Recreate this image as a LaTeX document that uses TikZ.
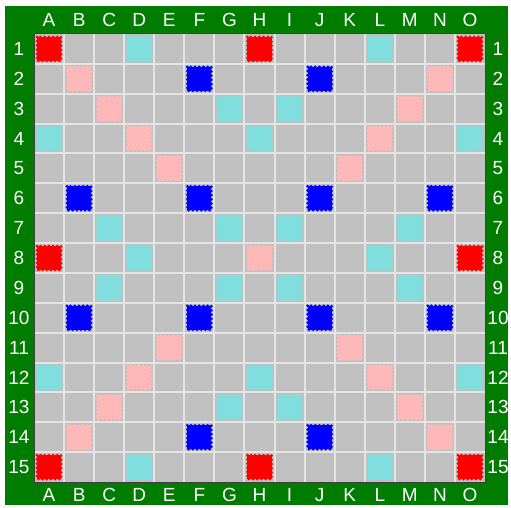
\documentclass[tikz,border=0pt]{standalone}
\usepackage{fontspec}
\setmainfont{Liberation Sans}
\usetikzlibrary{positioning}

\definecolor{boardgreen}{RGB}{0,124,0}
\definecolor{cellgray}{RGB}{192,192,192}
\definecolor{gridgray}{RGB}{228,228,228}
\definecolor{twred}{RGB}{255,0,0}
\definecolor{dwpink}{RGB}{255,184,184}
\definecolor{tlblue}{RGB}{0,0,255}
\definecolor{dlcyan}{RGB}{128,222,222}

\tikzset{
  coordtext/.style={text=white, inner sep=0pt, font=\fontsize{19}{19}\selectfont},
  gridline/.style={gridgray, line width=2pt},
  boardedge/.style={draw=black!75, line width=1pt},
  scallop/.style={line width=3pt, line cap=round, dash pattern=on 0pt off 4.2pt}
}

% cell size of the board in px
\newcommand{\cw}{30.07}
\newcommand{\ch}{29.87}

% premium square: column, row, colour
\newcommand{\premiumsq}[3]{%
  \pgfmathsetmacro{\px}{34+(#1-1)*\cw}%
  \pgfmathsetmacro{\py}{34+(#2-1)*\ch}%
  \fill[#3] (\px+3,\py+3) rectangle (\px+\cw-3,\py+\ch-3);
  \draw[#3, scallop] (\px+3,\py+3) rectangle (\px+\cw-3,\py+\ch-3);
}

\begin{document}
\begin{tikzpicture}[x=1pt, y=-1pt]
    \useasboundingbox (0,0) rectangle (511,508);
    \fill[white] (0,0) rectangle (511,508);
    \fill[boardgreen] (5,6) rectangle (508,505);

    % Board
    \fill[cellgray] (34,34) rectangle (485,482);
    \foreach \i in {1,...,14} {
        \draw[gridline] ({34+\i*\cw},34) -- ({34+\i*\cw},482);
        \draw[gridline] (34,{34+\i*\ch}) -- (485,{34+\i*\ch});
    }

    % Premium squares
    \foreach \c/\r in {1/1,8/1,15/1,1/8,15/8,1/15,8/15,15/15}
        \premiumsq{\c}{\r}{twred};
    \foreach \c/\r in {2/2,3/3,4/4,5/5,14/2,13/3,12/4,11/5,8/8,
                       2/14,3/13,4/12,5/11,14/14,13/13,12/12,11/11}
        \premiumsq{\c}{\r}{dwpink};
    \foreach \c/\r in {6/2,10/2,2/6,6/6,10/6,14/6,2/10,6/10,10/10,14/10,6/14,10/14}
        \premiumsq{\c}{\r}{tlblue};
    \foreach \c/\r in {4/1,12/1,7/3,9/3,1/4,8/4,15/4,3/7,7/7,9/7,13/7,4/8,12/8,
                       3/9,7/9,9/9,13/9,1/12,8/12,15/12,7/13,9/13,4/15,12/15}
        \premiumsq{\c}{\r}{dlcyan};

    \draw[boardedge] (34,34) rectangle (485,482);

    % Column letters
    \foreach \l [count=\i] in {A,B,C,D,E,F,G,H,I,J,K,L,M,N,O} {
        \node[coordtext] (top-\l) at ({34+(\i-0.5)*\cw},20) {\l};
        \node[coordtext] (bot-\l) at ({34+(\i-0.5)*\cw},495) {\l};
    }

    % Row numbers
    \foreach \n in {1,...,15} {
        \node[coordtext] (left-\n) at (19,{34+(\n-0.5)*\ch}) {\n};
        \node[coordtext] (right-\n) at (498,{34+(\n-0.5)*\ch}) {\n};
    }
\end{tikzpicture}
\end{document}
